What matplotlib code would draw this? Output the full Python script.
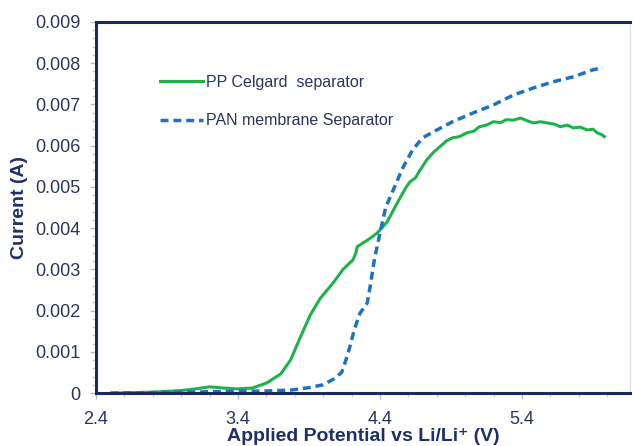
import matplotlib
matplotlib.use("Agg")
import matplotlib.pyplot as plt
from matplotlib.ticker import MultipleLocator

plt.rcParams['font.family'] = ['Liberation Sans', 'DejaVu Sans']

# PP Celgard separator (solid green)
pp_v = [2.55, 2.8, 3.0, 3.1, 3.2, 3.3, 3.4, 3.5, 3.6, 3.7, 3.77, 3.84, 3.91, 3.98,
        4.07, 4.14, 4.21, 4.23, 4.24, 4.28, 4.33, 4.38, 4.45, 4.52, 4.58, 4.61, 4.65,
        4.67, 4.73, 4.78, 4.82, 4.87, 4.91, 4.96, 5.01, 5.06, 5.10, 5.15, 5.20, 5.25,
        5.29, 5.34, 5.39, 5.44, 5.48, 5.53, 5.58, 5.63, 5.67, 5.72, 5.76, 5.81, 5.86,
        5.90, 5.93, 5.96, 5.98]
pp_i = [0.0, 0.00002, 0.00006, 0.0001, 0.00015, 0.00012, 0.0001, 0.00012, 0.00024,
        0.00046, 0.0008, 0.00136, 0.0019, 0.0023, 0.00267, 0.003, 0.00323, 0.0034,
        0.00355, 0.00364, 0.00375, 0.00388, 0.00415, 0.0046, 0.00497, 0.00512, 0.00522,
        0.00534, 0.00566, 0.00585, 0.00597, 0.00612, 0.00619, 0.00622, 0.00631, 0.00635,
        0.00646, 0.0065, 0.00658, 0.00656, 0.00663, 0.00662, 0.00667, 0.0066, 0.00655,
        0.00658, 0.00655, 0.00652, 0.00646, 0.0065, 0.00643, 0.00645, 0.00638, 0.0064,
        0.00631, 0.00627, 0.00622]

# PAN membrane separator (dashed blue)
pan_v = [2.5, 2.8, 3.0, 3.2, 3.4, 3.6, 3.77, 3.9, 4.0, 4.08, 4.13, 4.16, 4.19, 4.22,
         4.26, 4.31, 4.33, 4.36, 4.40, 4.44, 4.49, 4.56, 4.63, 4.70, 4.80, 4.91, 5.06,
         5.20, 5.34, 5.48, 5.62, 5.76, 5.90, 5.97]
pan_i = [0.0, 0.00001, 0.00002, 0.00003, 0.00004, 0.00005, 0.00007, 0.00013, 0.0002,
         0.00035, 0.0005, 0.0008, 0.00115, 0.00155, 0.00194, 0.00218, 0.00257, 0.00323,
         0.00388, 0.0045, 0.0049, 0.00546, 0.0059, 0.00619, 0.00638, 0.00658, 0.0068,
         0.00699, 0.00723, 0.0074, 0.00755, 0.00767, 0.00784, 0.00789]

x_ticks = [2.4, 3.4, 4.4, 5.4]
y_ticks = [0, 0.001, 0.002, 0.003, 0.004, 0.005, 0.006, 0.007, 0.008, 0.009]
y_labels = ['0', '0.001', '0.002', '0.003', '0.004', '0.005', '0.006', '0.007', '0.008', '0.009']

navy = '#1c2a63'
text_c = '#2a355e'

fig = plt.figure(figsize=(6.34, 4.46), dpi=100)
ax = fig.add_axes([96 / 634, 53 / 446, (630 - 96) / 634, (393 - 22) / 446])

ax.plot(pp_v, pp_i, color='#1db34a', lw=2.2, label='PP Celgard  separator')
ax.plot(pan_v, pan_i, color='#1f72c0', lw=2.5, dashes=(2.3, 1.4),
        label='PAN membrane Separator')

ax.set_xlim(2.4, 2.4 + (630 - 96) / 142)
ax.set_ylim(0, 0.009)

ax.set_xticks(x_ticks)
ax.set_xticklabels([f'{v:.1f}' for v in x_ticks])
ax.xaxis.set_minor_locator(MultipleLocator(0.2))
ax.set_yticks(y_ticks)
ax.set_yticklabels(y_labels)
ax.yaxis.set_minor_locator(MultipleLocator(0.0002))

ax.tick_params(axis='both', which='major', labelsize=13, labelcolor=text_c,
               color='#b8bccb', length=4, width=1, direction='out')
ax.tick_params(axis='both', which='minor', color='#c8ccd8', length=3, width=1,
               direction='out')
ax.tick_params(axis='x', pad=9)
ax.tick_params(axis='y', pad=7)

for side in ['top', 'left', 'bottom']:
    ax.spines[side].set_color(navy)
    ax.spines[side].set_linewidth(2.2)
ax.spines['right'].set_color('#e6e2dc')
ax.spines['right'].set_linewidth(1)

ax.set_ylabel('Current (A)', fontsize=14, fontweight='bold', color='#1f3068',
              labelpad=5)
ax.set_xlabel('Applied Potential vs Li/Li\u207a (V)', fontsize=14, fontweight='bold',
              color='#1f3068', labelpad=0)

leg = ax.legend(loc='upper left', bbox_to_anchor=(160 / 634, 1 - 75 / 446),
                bbox_transform=fig.transFigure, frameon=False, fontsize=11.5,
                handlelength=2.7, handletextpad=0.15, borderpad=0,
                borderaxespad=0, labelspacing=1.45)
for t in leg.get_texts():
    t.set_color(text_c)

fig.savefig('out.png', dpi=100)
